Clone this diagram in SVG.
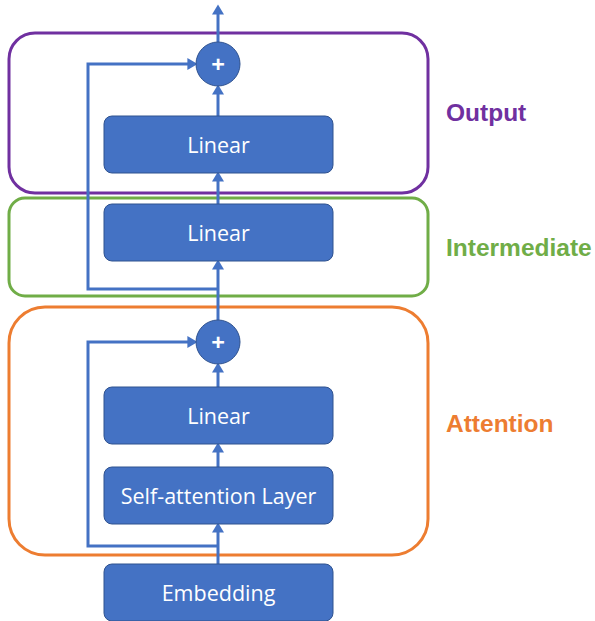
<svg xmlns="http://www.w3.org/2000/svg" width="595" height="621" viewBox="0 0 595 621">
<defs>
<marker id="ah" markerWidth="4" markerHeight="4" refX="2.2" refY="2" orient="auto" markerUnits="strokeWidth">
<path d="M0,0 L3.4,2 L0,4 Z" fill="#4472C4"/>
</marker>
<style>
.grp{fill:none;stroke-width:3}
.box{fill:#4472C4;stroke:#2F528F;stroke-width:1}
.btxt{fill:#fff;font-family:"Open Sans","Noto Sans",sans-serif;font-size:21.5px;text-anchor:middle;dominant-baseline:central}
.ptxt{fill:#fff;font-family:"Open Sans","Noto Sans",sans-serif;font-size:24px;font-weight:bold;text-anchor:middle;dominant-baseline:central}
.lbl{font-family:"Liberation Sans",Arial,sans-serif;font-weight:bold;font-size:24.5px}
.conn{fill:none;stroke:#4472C4;stroke-width:3;marker-end:url(#ah)}
</style>
</defs>
<rect width="595" height="621" fill="#fff"/>
<g id="group-output">
<rect class="grp" x="9" y="33" width="419" height="160" rx="26" stroke="#7030A0"/>
<text class="lbl" x="446" y="121" fill="#7030A0">Output</text>
</g>
<g id="group-intermediate">
<rect class="grp" x="9" y="198" width="419" height="98" rx="16" stroke="#70AD47"/>
<text class="lbl" x="446" y="256" fill="#70AD47">Intermediate</text>
</g>
<g id="group-attention">
<rect class="grp" x="9" y="307" width="419" height="248" rx="36" stroke="#ED7D31"/>
<text class="lbl" x="446" y="432" fill="#ED7D31">Attention</text>
</g>
<g id="connectors">
<path class="conn" d="M218,564 L218,526"/>
<path class="conn" d="M218,467 L218,446"/>
<path class="conn" d="M218,387 L218,366"/>
<path class="conn" d="M218,320 L218,263"/>
<path class="conn" d="M218,204 L218,175"/>
<path class="conn" d="M218,116 L218,88"/>
<path class="conn" d="M218,42 L218,8"/>
<path class="conn" d="M218,546 L88,546 L88,342 L194,342"/>
<path class="conn" d="M218,289 L88,289 L88,64 L194,64"/>
</g>
<g id="node-embedding">
<rect class="box" x="104" y="564" width="229" height="57" rx="8"/>
<text class="btxt" x="218.5" y="592">Embedding</text>
</g>
<g id="node-self-attention">
<rect class="box" x="104" y="467" width="229" height="57" rx="8"/>
<text class="btxt" x="218.5" y="495">Self-attention Layer</text>
</g>
<g id="node-linear-attn">
<rect class="box" x="104" y="387" width="229" height="57" rx="8"/>
<text class="btxt" x="218.5" y="415">Linear</text>
</g>
<g id="node-plus-attn">
<circle class="box" cx="218" cy="342" r="22"/>
<text class="ptxt" x="218" y="341">+</text>
</g>
<g id="node-linear-inter">
<rect class="box" x="104" y="204" width="229" height="57" rx="8"/>
<text class="btxt" x="218.5" y="232">Linear</text>
</g>
<g id="node-linear-out">
<rect class="box" x="104" y="116" width="229" height="57" rx="8"/>
<text class="btxt" x="218.5" y="144">Linear</text>
</g>
<g id="node-plus-out">
<circle class="box" cx="218" cy="64" r="22"/>
<text class="ptxt" x="218" y="63">+</text>
</g>
</svg>
